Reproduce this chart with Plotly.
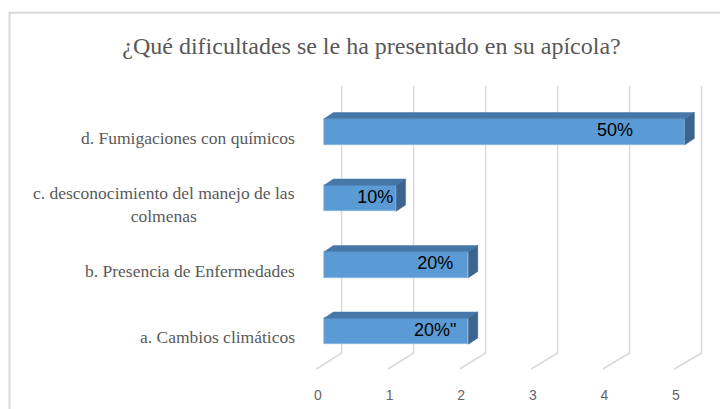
import plotly.graph_objects as go

# ---- data ----
categories = ["a. Cambios climáticos",
              "b. Presencia de Enfermedades",
              "c. desconocimiento del manejo de las<br>colmenas",
              "d. Fumigaciones con químicos"]
values = [2, 2, 1, 5]
value_labels = ['20%"', "20%", "10%", "50%"]
tick_values = [0, 1, 2, 3, 4, 5]
tick_labels = ["0", "1", "2", "3", "4", "5"]

# ---- geometry (3D look) ----
BAR_W = 0.39          # bar thickness in category units
DX, DY = 0.13, 0.095  # depth offset of the bar (x units, category units)
WALL_DX = 0.245       # back wall offset
FLOOR_FRONT_DX, FLOOR_SCALE = -0.104, 0.9917
Y_WALL_TOP, Y_WALL_BOT, Y_FLOOR_FRONT = 3.689, -0.326, -0.567

FRONT = "#5b9bd5"
TOP = "#4677a9"
SIDE = "#3b658f"
GRID = "#d9d9d9"

ypos = list(range(len(categories)))

fig = go.Figure()

# back wall gridlines + floor diagonals (drawn below the bars)
for v in tick_values:
    xb = v * 0.997 + WALL_DX
    xf = v * FLOOR_SCALE + FLOOR_FRONT_DX
    fig.add_shape(type="path", xref="x", yref="y", layer="below",
                  path=f"M {xb},{Y_WALL_TOP} L {xb},{Y_WALL_BOT} L {xf},{Y_FLOOR_FRONT}",
                  line=dict(color=GRID, width=1.5))

# front faces
fig.add_trace(go.Bar(x=values, y=ypos, orientation="h", width=BAR_W,
                     marker=dict(color=FRONT, line=dict(color="#8fb8e0", width=0.6)),
                     showlegend=False, hoverinfo="skip"))

# top and side faces
for k, v in zip(ypos, values):
    t = k + BAR_W / 2
    b = k - BAR_W / 2
    fig.add_trace(go.Scatter(
        x=[0, v, v + DX, DX, 0], y=[t, t, t + DY, t + DY, t],
        fill="toself", fillcolor=TOP, mode="lines",
        line=dict(color=TOP, width=0.5), hoverinfo="skip", showlegend=False))
    fig.add_trace(go.Scatter(
        x=[v, v + DX, v + DX, v, v], y=[b, b + DY, t + DY, t, b],
        fill="toself", fillcolor=SIDE, mode="lines",
        line=dict(color=SIDE, width=0.5), hoverinfo="skip", showlegend=False))

# value labels
fig.add_trace(go.Scatter(
    x=[0.83 * v - 0.12 for v in values], y=ypos, mode="text",
    text=value_labels, textposition="middle center",
    textfont=dict(family="Liberation Sans", size=18, color="#000000"),
    hoverinfo="skip", showlegend=False))

# category labels
for k, c in zip(ypos, categories):
    fig.add_annotation(x=-0.008, xref="paper", y=k - 0.09, yref="y",
                       text=c, showarrow=False, xanchor="right", yanchor="middle",
                       align="center",
                       font=dict(family="Liberation Serif", size=17.5, color="#595959"))

# chart border
fig.add_shape(type="rect", xref="paper", yref="paper",
              x0=-0.70, x1=2.0, y0=-1.0, y1=1.232,
              line=dict(color=GRID, width=2), fillcolor="rgba(0,0,0,0)", layer="below")

fig.update_layout(
    width=720, height=409,
    margin=dict(l=300, r=5, t=80, b=39, autoexpand=False),
    paper_bgcolor="white", plot_bgcolor="white",
    title=dict(text="¿Qué dificultades se le ha presentado en su apícola?",
               x=0.516, xanchor="center", y=1 - 46 / 409, yanchor="middle",
               font=dict(family="Liberation Serif", size=24, color="#595959")),
    xaxis=dict(range=[-0.332, 5.416], showgrid=False, zeroline=False,
               showline=False, tickmode="array",
               tickvals=[v * FLOOR_SCALE - 0.083 for v in tick_values],
               ticktext=tick_labels, ticks="outside", ticklen=12,
               tickcolor="rgba(0,0,0,0)",
               tickfont=dict(family="Liberation Sans", size=14, color="#666666"),
               fixedrange=True),
    yaxis=dict(range=[-0.582, 3.779], showgrid=False, zeroline=False,
               showline=False, showticklabels=False, fixedrange=True),
    bargap=0,
)

fig.write_html("out.html", config={"displayModeBar": False},
               post_script="document.body.style.margin='0px';document.body.style.padding='0px';")
